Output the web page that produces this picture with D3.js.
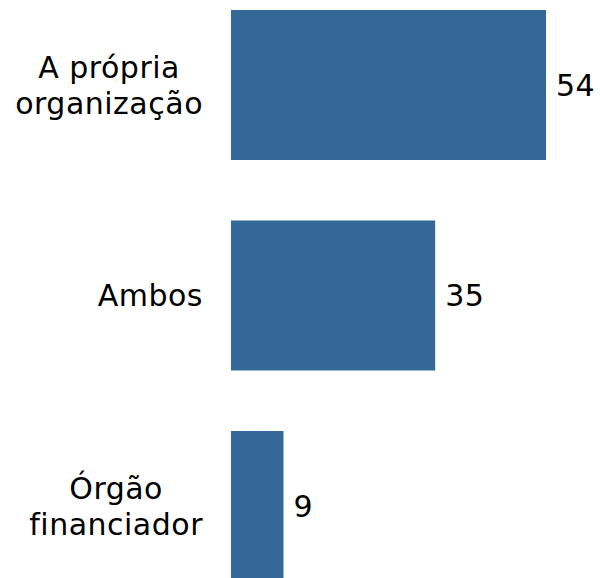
<!DOCTYPE html>
<html><head><meta charset="utf-8">
<script src="https://cdn.jsdelivr.net/npm/d3@7/dist/d3.min.js"></script>
<style>body{margin:0;background:#fff}</style>
</head><body>
<svg id="c" width="600" height="578"></svg>
<script>
const categories = [["A própria","organização"],["Ambos"],["Órgão","financiador"]];
const values = [54, 35, 9];

const svg = d3.select("#c");
const font = "DejaVu Sans, Verdana, sans-serif";
const fs = 30;
const ls = 0.5;
const x = d3.scaleLinear().domain([0, 54]).range([231, 546]);
const y = d3.scaleBand().domain(d3.range(values.length)).range([10, 581]).paddingInner(0.2874).paddingOuter(0);

svg.selectAll("rect.bar").data(values).join("rect")
  .attr("x", x(0)).attr("y", (d,i)=>y(i))
  .attr("width", d=>x(d)-x(0)).attr("height", y.bandwidth())
  .attr("fill", "#346899");

svg.selectAll("text.val").data(values).join("text")
  .attr("x", d=>x(d)+10).attr("y", (d,i)=>y(i)+y.bandwidth()/2)
  .attr("dy", "0.36em")
  .attr("font-family", font).attr("font-size", fs).attr("fill", "#000")
  .attr("letter-spacing", ls)
  .text(d=>d);

const lh = 36;
const right = 203;
categories.forEach((lines, i) => {
  const cy = y(i) + y.bandwidth()/2;
  const t = svg.append("text").attr("text-anchor", "middle")
    .attr("font-family", font).attr("font-size", fs).attr("fill", "#000")
    .attr("letter-spacing", ls);
  const spans = lines.map((ln, j) => t.append("tspan")
      .attr("y", cy + (j - (lines.length-1)/2) * lh)
      .attr("dy", "0.36em").text(ln));
  const maxW = d3.max(spans, s => s.node().getComputedTextLength());
  spans.forEach(s => s.attr("x", right - maxW/2));
});
</script>
</body></html>
